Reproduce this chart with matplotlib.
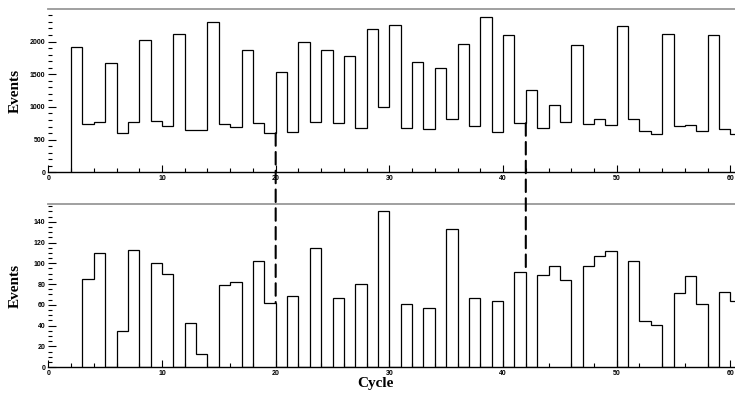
import numpy as np
import matplotlib
matplotlib.use("Agg")
import matplotlib.pyplot as plt
from matplotlib.patches import ConnectionPatch
from matplotlib.ticker import MultipleLocator

# upper histogram: one bin per cycle, cycles 2..60
top_start = 2
top_counts = [1913, 735, 765, 1673, 597, 765, 2020, 780, 704, 2117, 643, 643,
              2296, 735, 689, 1877, 750, 597, 1535, 622, 1990, 765, 1867, 750,
              1780, 673, 2189, 995, 2255, 673, 1684, 663, 1592, 811, 1969, 714,
              2372, 612, 2107, 750, 1260, 683, 1025, 770, 1949, 735, 811, 724,
              2240, 816, 632, 586, 2122, 709, 719, 632, 2107, 663, 582]

# lower histogram: cycles 3..60
bot_start = 3
bot_counts = [85, 110, 0, 35, 113, 0, 100, 90, 0, 43, 13, 0, 79, 82, 0, 102,
              62, 0, 69, 0, 115, 0, 67, 0, 80, 0, 150, 0, 61, 0, 57, 0, 133, 0,
              67, 0, 64, 0, 92, 0, 89, 97, 84, 0, 97, 107, 112, 0, 102, 44, 41,
              0, 71, 88, 61, 0, 72, 64]

# cycles marked by the dashed lines
marked_cycles = [20, 42]


def style_axes(ax, ymax, ymajor, yminor):
    ax.set_xlim(0, 60.4)
    ax.set_ylim(0, ymax)
    ax.xaxis.set_major_locator(MultipleLocator(10))
    ax.xaxis.set_minor_locator(MultipleLocator(2))
    ax.yaxis.set_major_locator(MultipleLocator(ymajor))
    ax.yaxis.set_minor_locator(MultipleLocator(yminor))
    ax.tick_params(which="both", direction="in", width=0.8, color="black",
                   labelsize=5, pad=2)
    ax.tick_params(axis="y", which="major", length=6)
    ax.tick_params(axis="y", which="minor", length=3)
    ax.tick_params(axis="x", which="major", length=5)
    ax.tick_params(axis="x", which="minor", length=3)
    for lab in ax.get_xticklabels() + ax.get_yticklabels():
        lab.set_fontweight("bold")
        lab.set_family("Liberation Sans")
    ax.spines["left"].set_visible(False)
    ax.spines["right"].set_visible(False)
    ax.spines["top"].set_color("#999999")
    ax.spines["top"].set_linewidth(1.3)
    ax.spines["bottom"].set_linewidth(1.0)
    ax.set_ylabel("Events", family="Liberation Serif", fontweight="bold",
                  fontsize=11)
    ax.yaxis.set_label_coords(-0.038, 0.5)


def main():
    fig = plt.figure(figsize=(7.35, 3.97), dpi=100)
    ax1 = fig.add_axes([0.0657, 0.566, 0.9343, 0.411])
    ax2 = fig.add_axes([0.0657, 0.075, 0.9343, 0.411])

    top_edges = np.arange(top_start, top_start + len(top_counts) + 1)
    bot_edges = np.arange(bot_start, bot_start + len(bot_counts) + 1)
    ax1.stairs(top_counts, top_edges, color="black", linewidth=0.9, baseline=0)
    ax2.stairs(bot_counts, bot_edges, color="black", linewidth=0.9, baseline=0)

    style_axes(ax1, 2495, 500, 100)
    style_axes(ax2, 157, 20, 5)

    ax2.set_xlabel("Cycle", family="Liberation Serif", fontweight="bold",
                   fontsize=11)
    ax2.xaxis.set_label_coords(0.477, -0.06)

    # dashed connectors between the two panels
    for c in marked_cycles:
        y_top = top_counts[c - 1 - top_start]
        y_bot = bot_counts[c - 1 - bot_start]
        con = ConnectionPatch(xyA=(c, y_top), coordsA=ax1.transData,
                              xyB=(c, y_bot), coordsB=ax2.transData,
                              color="black", linewidth=1.5,
                              linestyle=(0, (6, 3)), zorder=5)
        fig.add_artist(con)

    fig.savefig("out.png", dpi=100)


if __name__ == "__main__":
    main()
